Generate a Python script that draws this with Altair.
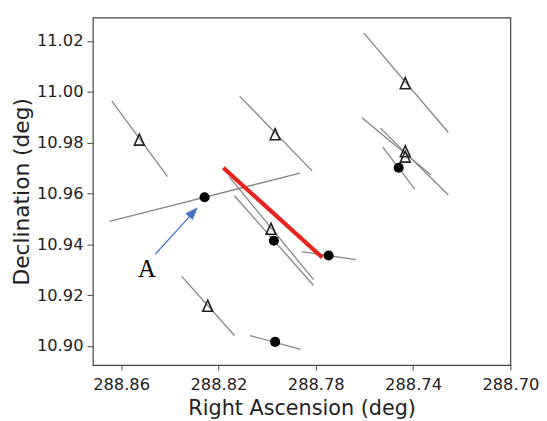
import altair as alt
import pandas as pd

# Gray position-angle segments (start / end in RA, Dec)
seg_ra1 = [288.8638, 288.8113, 288.7603, 288.7610, 288.7534, 288.7525, 288.8648, 288.8156, 288.8134, 288.7858, 288.8351, 288.8071]
seg_dec1 = [10.9963, 10.9983, 11.0232, 10.9898, 10.9857, 10.9783, 10.9490, 10.9666, 10.9591, 10.9371, 10.9274, 10.9041]
seg_ra2 = [288.8409, 288.7815, 288.7255, 288.7326, 288.7255, 288.7393, 288.7865, 288.7809, 288.7809, 288.7635, 288.8134, 288.7862]
seg_dec2 = [10.9666, 10.9689, 10.9840, 10.9673, 10.9594, 10.9617, 10.9680, 10.9261, 10.9238, 10.9340, 10.9041, 10.8987]

# Open triangles
tri_ra = [288.8525, 288.7967, 288.7432, 288.7432, 288.7432, 288.7984, 288.8244]
tri_dec = [10.9812, 10.9833, 11.0034, 10.9766, 10.9745, 10.9461, 10.9158]

# Filled circles
dot_ra = [288.8257, 288.7972, 288.7747, 288.7459, 288.7967]
dot_dec = [10.9585, 10.9414, 10.9356, 10.9701, 10.9016]

# Red segment
red_ra = [288.8180, 288.7773]
red_dec = [10.9701, 10.9348]

# Annotation arrow (shaft start/end, head tip) and label
arrow_ra = [288.8459, 288.8318]
arrow_dec = [10.9362, 10.9510]
head_ra = [288.8285]
head_dec = [10.9546]
label_ra = [288.8494]
label_dec = [10.9270]
label_text = ["A"]

x_ticks = [288.86, 288.82, 288.78, 288.74, 288.70]
y_ticks = [10.90, 10.92, 10.94, 10.96, 10.98, 11.00, 11.02]
X_DOMAIN = [288.70, 288.8716]
Y_DOMAIN = [10.8925, 11.0292]

xscale = alt.Scale(domain=X_DOMAIN, reverse=True, nice=False, zero=False)
yscale = alt.Scale(domain=Y_DOMAIN, nice=False, zero=False)
xaxis = alt.Axis(values=x_ticks, format=".2f", title="Right Ascension (deg)",
                 grid=False, domain=False, tickSize=5, labelPadding=7,
                 labelFontSize=16.5, titleFontSize=21, titlePadding=5,
                 labelColor="#222", titleColor="#222", tickColor="#444",
                 titleFontWeight="normal", labelFlush=False)
yaxis = alt.Axis(values=y_ticks, format=".2f", title="Declination (deg)",
                 grid=False, domain=False, tickSize=6, labelPadding=4,
                 labelFontSize=16.5, titleFontSize=22, titlePadding=3,
                 labelColor="#222", titleColor="#222", tickColor="#444",
                 titleFontWeight="normal")


def X(field):
    return alt.X(field, type="quantitative", scale=xscale, axis=xaxis)


def Y(field):
    return alt.Y(field, type="quantitative", scale=yscale, axis=yaxis)


segs = pd.DataFrame({"ra1": seg_ra1, "dec1": seg_dec1, "ra2": seg_ra2, "dec2": seg_dec2})
tris = pd.DataFrame({"ra": tri_ra, "dec": tri_dec})
dots = pd.DataFrame({"ra": dot_ra, "dec": dot_dec})
red = pd.DataFrame({"ra1": [red_ra[0]], "dec1": [red_dec[0]], "ra2": [red_ra[1]], "dec2": [red_dec[1]]})
arrow = pd.DataFrame({"ra1": [arrow_ra[0]], "dec1": [arrow_dec[0]], "ra2": [arrow_ra[1]], "dec2": [arrow_dec[1]]})
head = pd.DataFrame({"ra": head_ra, "dec": head_dec})
lab = pd.DataFrame({"ra": label_ra, "dec": label_dec, "t": label_text})

gray = alt.Chart(segs).mark_rule(color="#858585", strokeWidth=1.3).encode(
    x=X("ra1"), y=Y("dec1"), x2="ra2", y2="dec2")

redl = alt.Chart(red).mark_rule(color="#e8221c", strokeWidth=4.2).encode(
    x=X("ra1"), y=Y("dec1"), x2="ra2", y2="dec2")

tri = alt.Chart(tris).mark_point(
    shape="M0,-1L-0.9,1L0.9,1Z", size=125, filled=False, color="#222", strokeWidth=1.6, opacity=1
).encode(x=X("ra"), y=Y("dec"))

dot = alt.Chart(dots).mark_circle(size=105, color="black", opacity=1).encode(
    x=X("ra"), y=Y("dec"))

shaft = alt.Chart(arrow).mark_rule(color="#4472c4", strokeWidth=1.3).encode(
    x=X("ra1"), y=Y("dec1"), x2="ra2", y2="dec2")

ahead = alt.Chart(head).mark_point(
    shape="M0,0L-0.38,1L0.38,1Z", size=676, filled=True, color="#4472c4", angle=42, opacity=1
).encode(x=X("ra"), y=Y("dec"))

text = alt.Chart(lab).mark_text(
    font="Liberation Serif", fontSize=25, align="center", baseline="alphabetic", color="black"
).encode(x=X("ra"), y=Y("dec"), text="t:N")

chart = alt.layer(gray, redl, tri, dot, shaft, ahead, text).properties(
    width=423, height=352,
    autosize=alt.AutoSizeParams(type="none"),
    padding={"left": 86, "top": 7, "right": 29, "bottom": 54},
).configure(font="DejaVu Sans").configure_view(
    stroke="#444", strokeWidth=1.2
)

chart.save("out.html", embed_options={"renderer": "svg", "actions": False})
